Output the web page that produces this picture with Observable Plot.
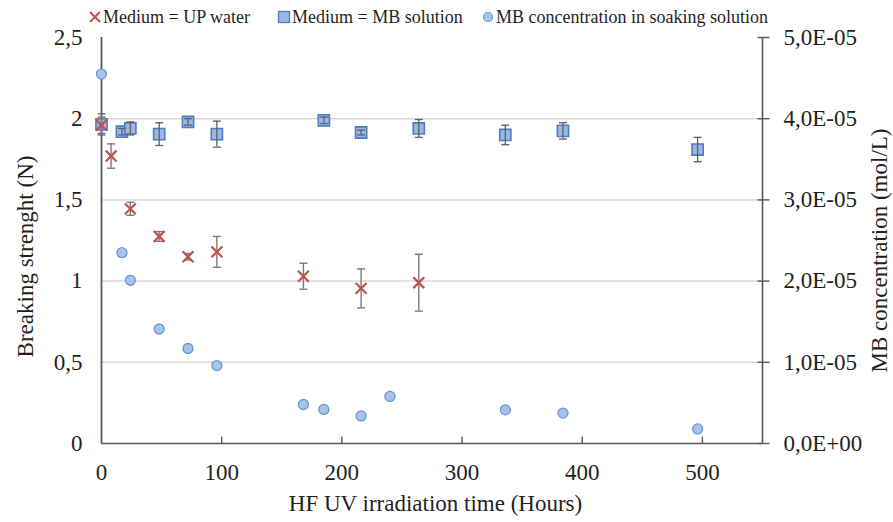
<!DOCTYPE html>
<html>
<head>
<meta charset="utf-8">
<script src="https://cdn.jsdelivr.net/npm/d3@7"></script>
<script src="https://cdn.jsdelivr.net/npm/@observablehq/plot@0.6"></script>
<style>
  html, body { margin: 0; padding: 0; background: #fff; }
  #wrap { position: relative; width: 893px; height: 522px; font-family: "Liberation Serif", "DejaVu Serif", Tinos, "Times New Roman", Times, serif; color: #1f1f1f; }
  #legend { position: relative; width: 893px; height: 30px; font-size: 18px; }
  #legend .it { position: absolute; top: 7px; line-height: 20px; white-space: nowrap; }
  #legend svg { position: absolute; }
  #chart svg text { font-family: "Liberation Serif", "DejaVu Serif", Tinos, "Times New Roman", Times, serif; }
</style>
</head>
<body>
<div id="wrap">
  <div id="legend"></div>
  <div id="chart"></div>
</div>
<script>
// ---- Data ----
// Series 1: Medium = UP water (breaking strength, N)
const upTime  = [0, 8, 24, 48, 72, 96, 168, 216, 264];
const upValue = [1.96, 1.77, 1.445, 1.275, 1.15, 1.18, 1.03, 0.955, 0.99];
const upError = [0.05, 0.075, 0.04, 0.03, 0.02, 0.095, 0.08, 0.12, 0.175];

// Series 2: Medium = MB solution (breaking strength, N)
const mbTime  = [0, 17, 24, 48, 72, 96, 185, 216, 264, 336, 384, 496];
const mbValue = [1.965, 1.92, 1.94, 1.905, 1.98, 1.905, 1.99, 1.915, 1.94, 1.9, 1.925, 1.81];
const mbError = [0.065, 0.02, 0.04, 0.07, 0.02, 0.08, 0.02, 0.015, 0.055, 0.06, 0.05, 0.075];

// Series 3: MB concentration in soaking solution (mol/L, right axis)
const concTime  = [0, 17, 24, 48, 72, 96, 168, 185, 216, 240, 336, 384, 496];
const concValue = [4.55e-5, 2.35e-5, 2.01e-5, 1.41e-5, 1.17e-5, 0.96e-5, 4.8e-6, 4.2e-6, 3.4e-6, 5.8e-6, 4.15e-6, 3.75e-6, 1.8e-6];

// Axis ticks
const xTicks = [0, 100, 200, 300, 400, 500];
const yTicks = [0, 0.5, 1, 1.5, 2, 2.5];
const concTicks = [0, 1e-5, 2e-5, 3e-5, 4e-5, 5e-5];
const gridTicks = [0.5, 1, 1.5, 2];

const legendLabels = ["Medium = UP water", "Medium = MB solution", "MB concentration in soaking solution"];
const xLabel = "HF UV irradiation time (Hours)";
const yLabel = "Breaking strenght (N)";
const y2Label = "MB concentration (mol/L)";

// ---- Derived tables ----
const concMax = 5e-5, yMax = 2.5;
const toLeft = c => c * yMax / concMax;   // right axis value -> left axis units
const up = upTime.map((t, i) => ({t, v: upValue[i], e: upError[i]}));
const mb = mbTime.map((t, i) => ({t, v: mbValue[i], e: mbError[i]}));
const conc = concTime.map((t, i) => ({t, c: concValue[i]}));

const fmtComma = d => String(d).replace(".", ",");
const fmtE = c => {
  let [m, e] = (+c.toPrecision(6)).toExponential(1).split("e");
  const s = e[0] === "-" ? "-" : "+";
  e = e.replace(/[-+]/, "").padStart(2, "0");
  return m.replace(".", ",") + "E" + s + e;
};

// custom symbols
const capSym = {draw(ctx) { ctx.moveTo(-4, 0); ctx.lineTo(4, 0); }};
const xTickSym = {draw(ctx) { ctx.moveTo(0, 0); ctx.lineTo(0, -7); }};
const rTickSym = {draw(ctx) { ctx.moveTo(-5, 0); ctx.lineTo(7, 0); }};

const RED = "#c0504d";
const SQ_FILL = "#9cb8e2", SQ_STROKE = "#4a7cc9";
const CI_FILL = "#a9c3e8", CI_STROKE = "#6b97d6";
const ERR = "#5f5f5f";
const AXIS = "#595959";
const GRID = "#d9d9d9";
const FONT = "'Liberation Serif', 'DejaVu Serif', Tinos, 'Times New Roman', Times, serif";

const chart = Plot.plot({
  width: 893,
  height: 492,
  marginTop: 7,
  marginBottom: 79,
  marginLeft: 101,
  marginRight: 131,
  x: {domain: [0, 550]},
  y: {domain: [0, 2.5]},
  style: {fontFamily: FONT, fontSize: "23px", color: "#1f1f1f", background: "white", overflow: "visible"},
  marks: [
    Plot.ruleY(gridTicks, {stroke: GRID, strokeWidth: 1.5}),
    Plot.ruleY([0], {stroke: AXIS, strokeWidth: 1.6}),
    Plot.ruleX([0], {stroke: AXIS, strokeWidth: 1.8}),
    Plot.ruleX([550], {stroke: AXIS, strokeWidth: 1.6}),
    Plot.dot(xTicks.filter(d => d > 0), {x: d => d, y: 0, symbol: xTickSym, stroke: AXIS, strokeWidth: 1.4}),
    Plot.dot(concTicks, {x: 550, y: d => toLeft(d), symbol: rTickSym, stroke: AXIS, strokeWidth: 1.4}),
    Plot.axisX({ticks: xTicks, tickSize: 0, tickPadding: 20, label: null, tickFormat: d => String(d)}),
    Plot.axisY({anchor: "left", ticks: yTicks, tickSize: 0, tickPadding: 19, label: null, tickFormat: fmtComma}),
    Plot.axisY({anchor: "right", ticks: concTicks.map(toLeft), tickSize: 0, tickPadding: 21, label: null, tickFormat: v => fmtE(v * concMax / yMax)}),
    // MB concentration (circles)
    Plot.dot(conc, {x: "t", y: d => toLeft(d.c), r: 5, fill: CI_FILL, stroke: CI_STROKE, strokeWidth: 1.3}),
    // MB solution squares
    Plot.dot(mb, {x: "t", y: "v", symbol: "square", r: 6.3, fill: SQ_FILL, stroke: SQ_STROKE, strokeWidth: 1.6}),
    // error bars
    Plot.ruleX(mb, {x: "t", y1: d => d.v - d.e, y2: d => d.v + d.e, stroke: ERR, strokeWidth: 1.3}),
    Plot.dot(mb, {x: "t", y: d => d.v - d.e, symbol: capSym, stroke: ERR, strokeWidth: 1.3}),
    Plot.dot(mb, {x: "t", y: d => d.v + d.e, symbol: capSym, stroke: ERR, strokeWidth: 1.3}),
    Plot.ruleX(up, {x: "t", y1: d => d.v - d.e, y2: d => d.v + d.e, stroke: "#7a7a7a", strokeWidth: 1.4}),
    Plot.dot(up, {x: "t", y: d => d.v - d.e, symbol: capSym, stroke: "#7a7a7a", strokeWidth: 1.4}),
    Plot.dot(up, {x: "t", y: d => d.v + d.e, symbol: capSym, stroke: "#7a7a7a", strokeWidth: 1.4}),
    // UP water crosses
    Plot.dot(up, {x: "t", y: "v", symbol: "times", r: 5, stroke: RED, fill: "none", strokeWidth: 2.2}),
    // axis titles
    Plot.text([xLabel], {frameAnchor: "bottom", dx: 3.5, dy: 60.5, lineAnchor: "middle", fontSize: 23}),
    Plot.text([yLabel], {frameAnchor: "left", dx: -76, dy: 16, rotate: -90, textAnchor: "middle", lineAnchor: "middle", fontSize: 23}),
    Plot.text([y2Label], {frameAnchor: "right", dx: 117, dy: 10, rotate: -90, textAnchor: "middle", lineAnchor: "middle", fontSize: 23})
  ]
});
document.getElementById("chart").appendChild(chart);

// ---- Legend (HTML above the SVG) ----
const legend = document.getElementById("legend");
const ns = "http://www.w3.org/2000/svg";
function sym(left, kind) {
  const s = document.createElementNS(ns, "svg");
  s.setAttribute("width", 14); s.setAttribute("height", 14);
  s.style.left = left + "px"; s.style.top = "10px";
  let el;
  if (kind === "x") {
    el = document.createElementNS(ns, "path");
    el.setAttribute("d", "M2,2L12,12M12,2L2,12");
    el.setAttribute("stroke", RED); el.setAttribute("stroke-width", 2); el.setAttribute("fill", "none");
  } else if (kind === "sq") {
    el = document.createElementNS(ns, "rect");
    el.setAttribute("x", 1.5); el.setAttribute("y", 1.5); el.setAttribute("width", 11); el.setAttribute("height", 11);
    el.setAttribute("fill", SQ_FILL); el.setAttribute("stroke", SQ_STROKE); el.setAttribute("stroke-width", 1.3);
  } else {
    el = document.createElementNS(ns, "circle");
    el.setAttribute("cx", 7); el.setAttribute("cy", 7); el.setAttribute("r", 4.5);
    el.setAttribute("fill", CI_FILL); el.setAttribute("stroke", CI_STROKE); el.setAttribute("stroke-width", 1.2);
  }
  s.appendChild(el);
  legend.appendChild(s);
}
function lab(left, text) {
  const d = document.createElement("div");
  d.className = "it"; d.style.left = left + "px"; d.textContent = text;
  legend.appendChild(d);
}
sym(88, "x");  lab(103, legendLabels[0]);
sym(277, "sq"); lab(292, legendLabels[1]);
sym(481, "ci"); lab(496, legendLabels[2]);
</script>
</body>
</html>
